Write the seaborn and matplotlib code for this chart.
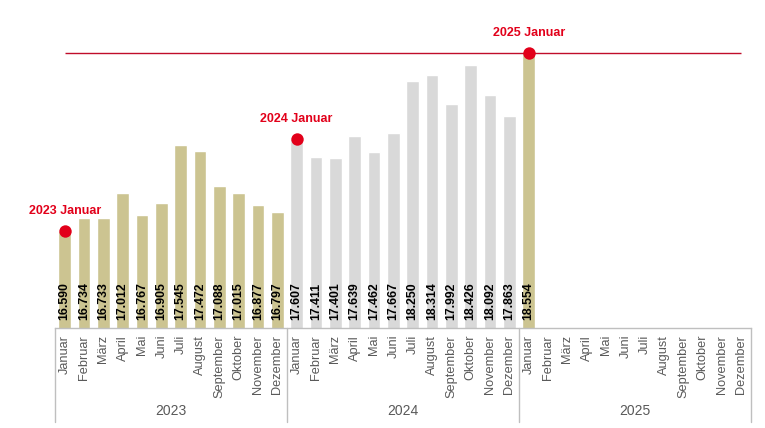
import pandas as pd
import numpy as np
import matplotlib.pyplot as plt
import matplotlib.transforms as mtransforms
from matplotlib import font_manager
import seaborn as sns

# Data
years = ['2023', '2024', '2025']
months = ['Januar', 'Februar', 'März', 'April', 'Mai', 'Juni', 'Juli',
          'August', 'September', 'Oktober', 'November', 'Dezember']
values_2023 = [16590, 16734, 16733, 17012, 16767, 16905, 17545, 17472, 17088, 17015, 16877, 16797]
values_2024 = [17607, 17411, 17401, 17639, 17462, 17667, 18250, 18314, 17992, 18426, 18092, 17863]
values_2025 = [18554] + [np.nan] * 11

beige = '#CCC491'
grey = '#D9D9D9'
red = '#E2001A'
line_red = '#C00D2A'
text_grey = '#595959'

keys = [f'{y}-{i + 1:02d}' for y in years for i in range(12)]
df = pd.DataFrame({
    'key': keys,
    'year': [y for y in years for _ in months],
    'month': months * 3,
    'value': values_2023 + values_2024 + values_2025,
})
palette = {k: (grey if k.startswith('2024') else beige) for k in keys}

sns.set_style('white')
plt.rcParams['font.family'] = ['Liberation Sans', 'DejaVu Sans']

# narrow face for the value labels if available
installed = {f.name for f in font_manager.fontManager.ttflist}
if 'Liberation Sans Narrow' in installed:
    label_font, label_size = ['Liberation Sans Narrow'], 10.5
else:
    label_font, label_size = ['Liberation Sans'], 8.8

fig = plt.figure(figsize=(7.65, 4.28), dpi=100)
ax = fig.add_axes([55 / 765, 100 / 428, 696 / 765, 328 / 428])

sns.barplot(data=df, x='key', y='value', hue='key', order=keys, palette=palette,
            legend=False, width=0.67, saturation=1, ax=ax)

y_bottom, y_top = 15520, 19140
ax.set_ylim(y_bottom, y_top)
ax.set_xlim(-0.5, len(keys) - 0.5)

# value labels inside the bars
for i, v in enumerate(df['value']):
    if np.isnan(v):
        continue
    ax.annotate(f'{int(v):,}'.replace(',', '.'), xy=(i, y_bottom), xytext=(0, 6),
                textcoords='offset points', rotation=90, ha='center', va='bottom',
                fontsize=label_size, fontweight='bold', color='black', family=label_font)

# January highlights
jan = df[df['month'] == 'Januar'].copy()
jan['pos'] = [keys.index(k) for k in jan['key']]
last_val = jan['value'].iloc[-1]
ax.hlines(last_val, 0, len(keys) - 1, color=line_red, lw=1, zorder=3)
ax.scatter(jan['pos'], jan['value'], s=80, color=red, zorder=4, linewidths=0)
for _, r in jan.iterrows():
    ax.annotate(f"{r['year']} Januar", xy=(r['pos'], r['value']), xytext=(0, 10),
                textcoords='offset points', ha='center', va='bottom',
                fontsize=9, fontweight='bold', color=red)

# axes styling
ax.set_xticks(range(len(keys)))
ax.set_xticklabels(df['month'], rotation=90, fontsize=9.2, color=text_grey)
ax.tick_params(axis='x', length=0, pad=5)
ax.set_yticks([])
ax.set_xlabel('')
ax.set_ylabel('')
for s in ['top', 'left', 'right']:
    ax.spines[s].set_visible(False)
ax.spines['bottom'].set_color('#BFBFBF')
ax.spines['bottom'].set_linewidth(1)

# year group labels and separators
trans = mtransforms.blended_transform_factory(ax.transData, ax.transAxes)
for gi, y in enumerate(years):
    ax.text(gi * 12 + 5.5, -0.253, y, transform=trans, ha='center', va='center',
            fontsize=10, color=text_grey)
for gi in range(len(years) + 1):
    ax.plot([gi * 12 - 0.5] * 2, [0, -0.287], transform=trans, color='#BFBFBF',
            lw=1, clip_on=False)

plt.savefig('out.png', dpi=100)
